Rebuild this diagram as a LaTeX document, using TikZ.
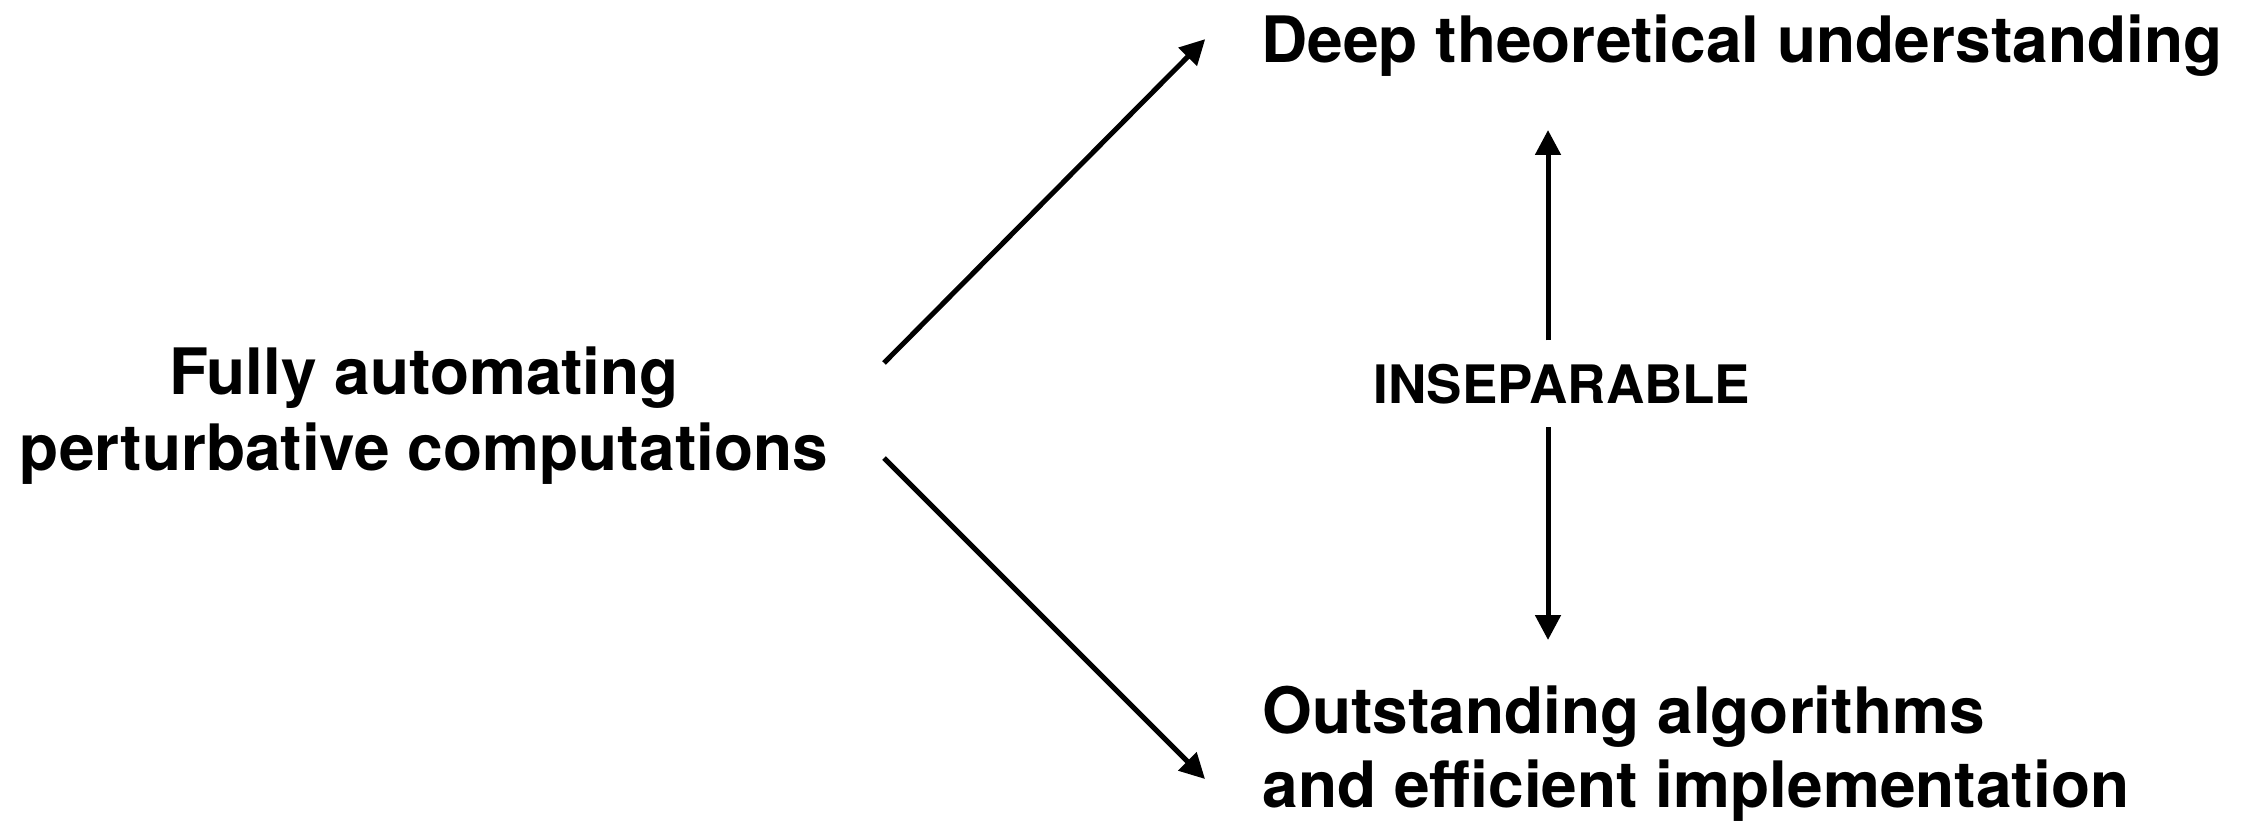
\documentclass[tikz,border=0pt]{standalone}
\usepackage{fontspec}
\setmainfont{TeX Gyre Heros}
\usepackage{tikz}
\usetikzlibrary{arrows.meta, positioning, calc}

\begin{document}
\begin{tikzpicture}[
    >={Triangle[length=12.5pt, width=12.5pt]},
    arr/.style={->, line width=2.5pt},
    big/.style={inner sep=0pt, font=\fontsize{32}{38}\selectfont\bfseries},
    small/.style={inner ysep=11.5pt, inner xsep=0pt, font=\fontsize{26.5}{31}\selectfont\bfseries},
]
    \useasboundingbox (0,0) rectangle (1120.5pt,410.5pt);
    \node[big, anchor=base, align=center] (src) at (212pt,175.5pt) {Fully automating\\perturbative computations};
    \node[big, anchor=base west] (theory) at (630.6pt,379pt) {Deep theoretical understanding};
    \node[big, anchor=base west, align=left, font=\fontsize{32}{37}\selectfont\bfseries] (impl) at (631pt,6.8pt) {Outstanding algorithms\\and efficient implementation};
    \node[small, anchor=base] (insep) at (781pt,209pt) {INSEPARABLE};
    % arrow ends
    \coordinate (s1) at (442pt,229pt);
    \coordinate (s2) at (442pt,181.5pt);
    \coordinate (e2) at (602.5pt,21pt);
    \coordinate (t1) at (774pt,345.5pt);
    \coordinate (b1) at (774pt,90.5pt);
    \draw[arr] (s1) -- ([xshift=-28pt, yshift=3.5pt]theory.west);
    \draw[arr] (s2) -- (e2);
    \draw[arr] (insep.north -| t1) -- (t1);
    \draw[arr] (insep.south -| b1) -- (b1);
\end{tikzpicture}
\end{document}
